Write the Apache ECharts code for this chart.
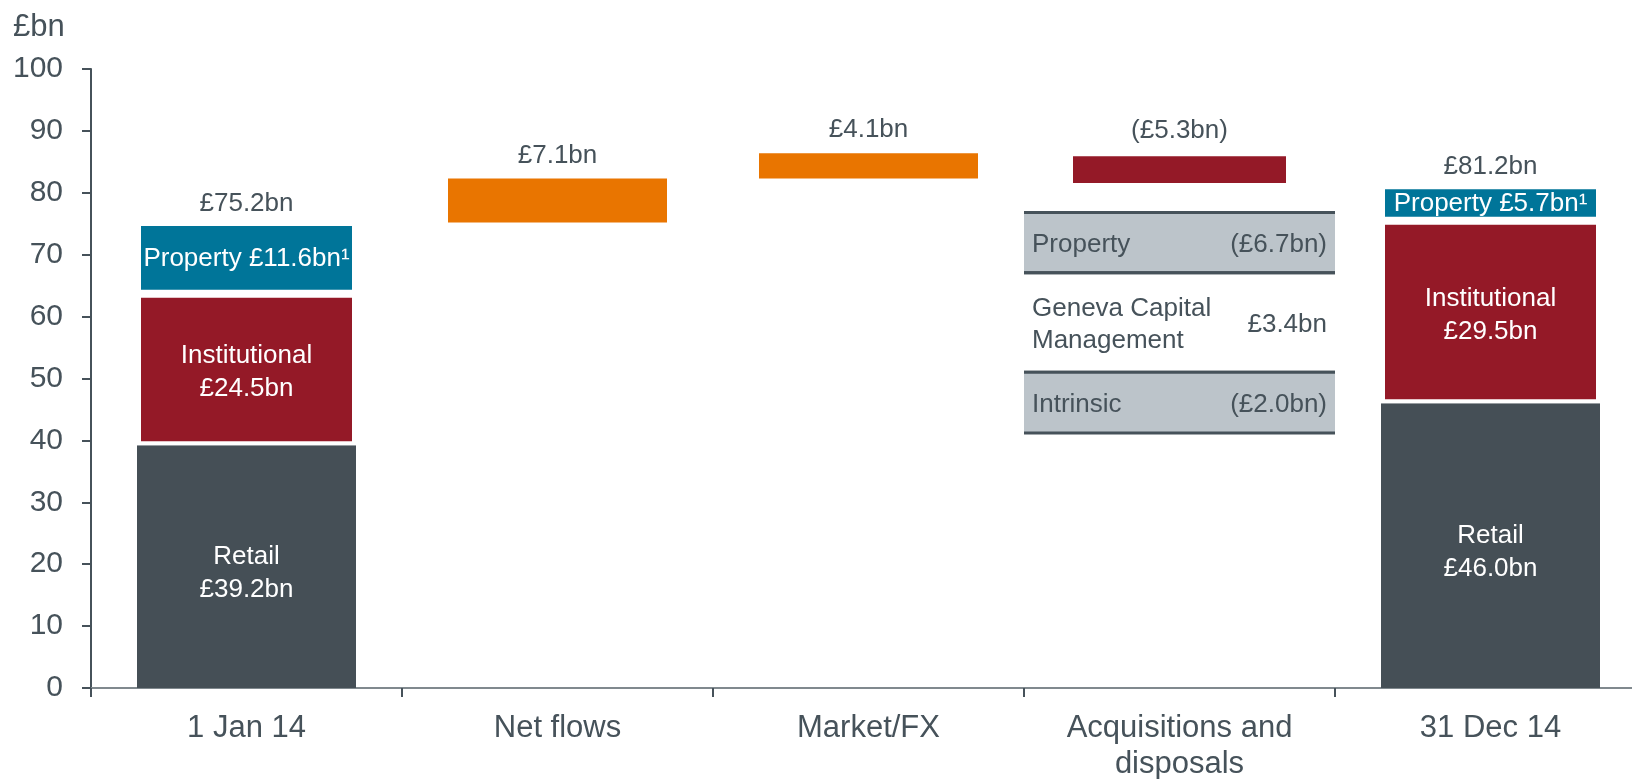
<!DOCTYPE html>
<html>
<head>
<meta charset="utf-8">
<script src="https://cdn.jsdelivr.net/npm/echarts@6/dist/echarts.min.js"></script>
<style>
  html, body { margin: 0; padding: 0; background: #ffffff; }
  #chart { width: 1632px; height: 779px; }
</style>
</head>
<body>
<div id="chart"></div>
<script>
// Assets under management bridge, £bn
const categories = ['1 Jan 14', 'Net flows', 'Market/FX', 'Acquisitions and\ndisposals', '31 Dec 14'];
const retail = [39.2, '-', '-', '-', 46.0];
const institutional = [24.5, '-', '-', '-', 29.5];
const property = [11.6, '-', '-', '-', 5.7];
const totals = [75.2, '-', '-', '-', 81.2];
const bridgeBase = ['-', 75.2, 82.3, 81.1, '-'];
const increases = ['-', 7.1, 4.1, '-', '-'];
const decreases = ['-', '-', '-', 5.3, '-'];

// Breakdown of acquisitions and disposals, shown beside the bridge
const breakdownNames = ['Property', 'Geneva Capital\nManagement', 'Intrinsic'];
const breakdownValues = [-6.7, 3.4, -2.0];
const breakdownBands = [[76.8, 67.1], [67.1, 51.0], [51.0, 41.2]];

const FONT = '"Liberation Sans", Arial, Helvetica, sans-serif';
const TEXT = '#46525a';
const C_RETAIL = '#454f56';
const C_INST = '#941927';
const C_PROP = '#007599';
const C_UP = '#e97500';
const C_DOWN = '#941927';
const C_PANEL = '#bcc4ca';

const bn = v => '£' + Number(v).toFixed(1) + 'bn';
const signedBn = v => v < 0 ? '(' + bn(-v) + ')' : bn(v);

const chart = echarts.init(document.getElementById('chart'), null, { renderer: 'canvas' });

const innerLabel = {
  show: true,
  position: 'inside',
  color: '#ffffff',
  fontSize: 26,
  lineHeight: 33,
  fontFamily: FONT
};

chart.setOption({
  animation: false,
  backgroundColor: '#ffffff',
  title: {
    text: '£bn',
    left: 13,
    top: 12,
    padding: 0,
    textStyle: { color: TEXT, fontSize: 31, fontWeight: 'normal', fontFamily: FONT }
  },
  // the category band runs slightly past the right edge of the canvas
  grid: {
    left: 91, width: 1555, top: 69, height: 619,
    containLabel: false, outerBoundsMode: 'none'
  },
  xAxis: {
    type: 'category',
    data: categories,
    boundaryGap: true,
    axisLine: { show: true, lineStyle: { color: '#80898e', width: 2 } },
    axisTick: { show: true, length: 9, lineStyle: { color: TEXT, width: 2 } },
    axisLabel: {
      color: TEXT, fontSize: 31, fontFamily: FONT, margin: 22, lineHeight: 36, interval: 0
    },
    splitLine: { show: false }
  },
  yAxis: {
    type: 'value',
    min: 0,
    max: 100,
    interval: 10,
    axisLine: { show: true, lineStyle: { color: TEXT, width: 2 } },
    axisTick: { show: true, length: 9, lineStyle: { color: TEXT, width: 2 } },
    axisLabel: { color: TEXT, fontSize: 30, fontFamily: FONT, margin: 28 },
    splitLine: { show: false }
  },
  series: [
    {
      name: 'base',
      type: 'bar',
      stack: 'aum',
      barWidth: 219,
      silent: true,
      itemStyle: { color: 'rgba(0,0,0,0)' },
      data: bridgeBase
    },
    {
      name: 'Retail',
      type: 'bar',
      stack: 'aum',
      barWidth: 219,
      itemStyle: { color: C_RETAIL },
      label: Object.assign({}, innerLabel, {
        offset: [0, 7],
        formatter: p => 'Retail\n' + bn(p.value)
      }),
      data: retail
    },
    {
      name: 'Institutional',
      type: 'bar',
      stack: 'aum',
      barWidth: 219,
      itemStyle: { color: C_INST, borderColor: '#ffffff', borderWidth: 4 },
      label: Object.assign({}, innerLabel, {
        offset: [0, 3],
        formatter: p => 'Institutional\n' + bn(p.value)
      }),
      data: institutional
    },
    {
      name: 'Property',
      type: 'bar',
      stack: 'aum',
      barWidth: 219,
      itemStyle: { color: C_PROP, borderColor: '#ffffff', borderWidth: 4 },
      label: Object.assign({}, innerLabel, {
        offset: [0, 1],
        formatter: p => 'Property ' + bn(p.value) + '¹'
      }),
      data: property
    },
    {
      name: 'Increase',
      type: 'bar',
      stack: 'aum',
      barWidth: 219,
      itemStyle: { color: C_UP },
      label: {
        show: true, position: 'top', distance: 10,
        color: TEXT, fontSize: 26, fontFamily: FONT,
        formatter: p => bn(p.value)
      },
      data: increases
    },
    {
      name: 'Decrease',
      type: 'bar',
      stack: 'aum',
      barWidth: 219,
      itemStyle: { color: C_DOWN, borderColor: '#ffffff', borderWidth: 3 },
      label: {
        show: true, position: 'top', distance: 9,
        color: TEXT, fontSize: 26, fontFamily: FONT,
        formatter: p => '(' + bn(p.value) + ')'
      },
      data: decreases
    },
    {
      name: 'Total',
      type: 'scatter',
      symbolSize: 0,
      silent: true,
      itemStyle: { opacity: 1 },
      label: {
        show: true, position: 'top', distance: 6,
        color: TEXT, fontSize: 26, fontFamily: FONT,
        formatter: p => bn(p.value)
      },
      data: totals
    },
    {
      name: 'Breakdown',
      type: 'custom',
      silent: true,
      renderItem: function (params, api) {
        const i = api.value(3);
        const top = api.coord([api.value(0), api.value(1)]);
        const bottom = api.coord([api.value(0), api.value(2)]);
        const w = api.size([1, 0])[0];
        const x0 = top[0] - w / 2;
        const x1 = top[0] + w / 2;
        const cy = (top[1] + bottom[1]) / 2;
        const children = [];
        if (i !== 1) {
          children.push({
            type: 'rect',
            shape: { x: x0, y: top[1], width: w, height: bottom[1] - top[1] },
            style: { fill: C_PANEL }
          });
        }
        children.push({
          type: 'line',
          shape: { x1: x0, y1: top[1], x2: x1, y2: top[1] },
          style: { stroke: TEXT, lineWidth: 3 }
        });
        children.push({
          type: 'line',
          shape: { x1: x0, y1: bottom[1], x2: x1, y2: bottom[1] },
          style: { stroke: TEXT, lineWidth: 3 }
        });
        children.push({
          type: 'text',
          style: {
            text: breakdownNames[i], x: x0 + 8, y: cy + 2,
            fill: TEXT, fontSize: 26, fontFamily: FONT, lineHeight: 32,
            align: 'left', verticalAlign: 'middle'
          }
        });
        children.push({
          type: 'text',
          style: {
            text: signedBn(breakdownValues[i]), x: x1 - 8, y: cy + 2,
            fill: TEXT, fontSize: 26, fontFamily: FONT,
            align: 'right', verticalAlign: 'middle'
          }
        });
        return { type: 'group', children: children };
      },
      data: breakdownBands.map((b, i) => [3, b[0], b[1], i])
    }
  ]
});
</script>
</body>
</html>
